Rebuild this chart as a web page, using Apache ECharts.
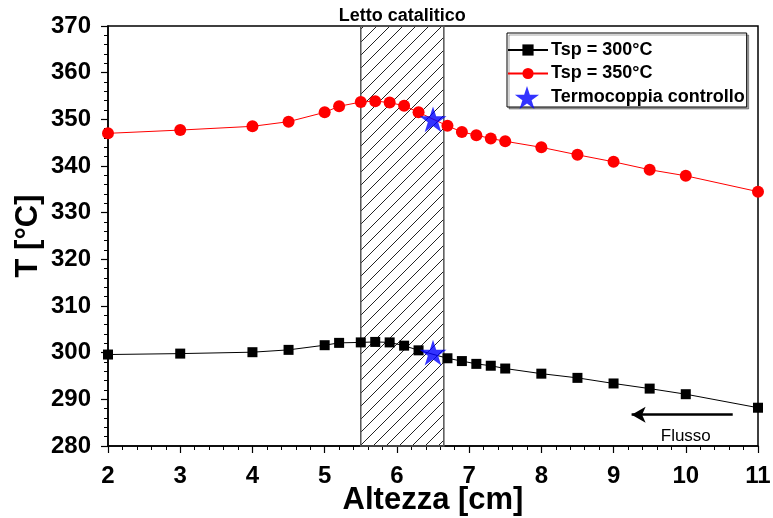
<!DOCTYPE html>
<html>
<head>
<meta charset="utf-8">
<script src="https://cdn.jsdelivr.net/npm/echarts@6/dist/echarts.min.js"></script>
<style>
  html, body { margin: 0; padding: 0; background: #fff; }
  #chart { width: 773px; height: 518px; }
</style>
</head>
<body>
<div id="chart"></div>
<script>
// Heights along the reactor [cm]
const altezza = [2, 3, 4, 4.5, 5, 5.2, 5.5, 5.7, 5.9, 6.1, 6.3, 6.7, 6.9, 7.1, 7.3, 7.5, 8, 8.5, 9, 9.5, 10, 11];
// Temperature profiles [°C]
const tsp300 = [299.6, 299.8, 300.1, 300.6, 301.6, 302.1, 302.2, 302.3, 302.2, 301.5, 300.5, 298.8, 298.2, 297.6, 297.2, 296.6, 295.5, 294.6, 293.4, 292.3, 291.1, 288.2];
const tsp350 = [347.0, 347.7, 348.5, 349.5, 351.5, 352.8, 353.7, 353.9, 353.6, 352.9, 351.5, 348.6, 347.3, 346.6, 345.9, 345.3, 344.0, 342.4, 340.9, 339.2, 337.9, 334.5];
// Control thermocouple readings
const termocoppia = [[6.5, 350], [6.5, 300]];
// Catalytic bed extent [cm]
const letto = [5.5, 6.65];
// Flow direction arrow (x from, x to, at T)
const flussoX = [10.65, 9.25];
const flussoT = 286.7;
const flussoLabel = [10.0, 282.0];

const xTicks = { min: 2, max: 11, interval: 1 };
const yTicks = { min: 280, max: 370, interval: 10 };

const FONT = '"Liberation Sans", Arial, sans-serif';

// hatch pattern for the catalytic bed
function hatch() {
  const s = 13;
  const c = document.createElement('canvas');
  c.width = s; c.height = s;
  const g = c.getContext('2d');
  g.strokeStyle = '#222';
  g.lineWidth = 1;
  g.beginPath();
  for (let k = -1; k <= 1; k++) {
    g.moveTo(k * s, s);
    g.lineTo(k * s + s, 0);
  }
  g.stroke();
  return c;
}

const starPath = 'path://M100,0L122.45,69.1L195.1,69.1L136.3,111.8L158.8,180.9L100,138.2L41.2,180.9L63.7,111.8L4.9,69.1L77.55,69.1Z';

const chart = echarts.init(document.getElementById('chart'), null, { renderer: 'canvas' });

const axisCommon = {
  type: 'value',
  axisLine: { show: true, onZero: false, lineStyle: { color: '#000', width: 1.5 } },
  axisTick: { show: true, inside: false, length: 7, lineStyle: { color: '#000', width: 1.2 } },
  minorTick: { show: true, splitNumber: 5, length: 4, lineStyle: { color: '#000', width: 1 } },
  splitLine: { show: false },
  axisLabel: { color: '#000', fontFamily: FONT, fontWeight: 'bold', fontSize: 24 },
  nameTextStyle: { color: '#000', fontFamily: FONT, fontWeight: 'bold', fontSize: 31 }
};

const legendText = { color: '#000', fontFamily: FONT, fontWeight: 'bold', fontSize: 18, padding: [0, 0, 0, -2] };

chart.setOption({
  animation: false,
  backgroundColor: '#fff',
  grid: {
    left: 108, right: 15, top: 26, bottom: 72,
    outerBoundsMode: 'none', containLabel: false,
    show: true, borderColor: '#000', borderWidth: 1.5, backgroundColor: 'transparent'
  },
  xAxis: Object.assign({}, axisCommon, {
    min: xTicks.min, max: xTicks.max, interval: xTicks.interval,
    name: 'Altezza [cm]', nameLocation: 'middle', nameGap: 39, nameMoveOverlap: false,
    axisLabel: Object.assign({}, axisCommon.axisLabel, { margin: 18 })
  }),
  yAxis: Object.assign({}, axisCommon, {
    min: yTicks.min, max: yTicks.max, interval: yTicks.interval,
    name: 'T [°C]', nameLocation: 'middle', nameGap: 64, nameMoveOverlap: false,
    axisLabel: Object.assign({}, axisCommon.axisLabel, { margin: 17 })
  }),
  legend: [
    {
      orient: 'vertical',
      left: 507, top: 33,
      padding: [8, 2, 1, 0],
      itemWidth: 40, itemHeight: 14, itemGap: 5.5,
      borderColor: '#000', borderWidth: 1,
      backgroundColor: '#fff',
      shadowColor: 'rgba(0,0,0,0.35)', shadowOffsetX: 2, shadowOffsetY: 2, shadowBlur: 0,
      textStyle: legendText,
      data: [
        'Tsp = 300°C',
        'Tsp = 350°C',
        { name: 'Termocoppia controllo', icon: 'rect', itemStyle: { opacity: 0 } }
      ]
    },
    {
      // larger marker for the thermocouple entry
      orient: 'vertical',
      left: 507, top: 86,
      padding: 0,
      itemWidth: 40, itemHeight: 23,
      textStyle: { color: 'rgba(0,0,0,0)', fontSize: 1 },
      formatter: () => '',
      data: ['Termocoppia controllo']
    }
  ],
  series: [
    {
      name: 'Tsp = 300°C',
      type: 'line',
      data: altezza.map((x, i) => [x, tsp300[i]]),
      symbol: 'rect', symbolSize: 10,
      lineStyle: { color: '#000', width: 1 },
      itemStyle: { color: '#000' },
      z: 3,
      markArea: {
        silent: true,
        itemStyle: { color: { image: hatch(), repeat: 'repeat' }, borderColor: '#555', borderWidth: 1.5 },
        label: { show: true, position: 'top', distance: 0, color: '#000', fontFamily: FONT, fontWeight: 'bold', fontSize: 18 },
        data: [[{ name: 'Letto catalitico', xAxis: letto[0], yAxis: yTicks.min }, { xAxis: letto[1], yAxis: yTicks.max }]]
      },
      markLine: {
        silent: true,
        symbol: ['none', 'arrow'],
        symbolSize: [12, 14],
        lineStyle: { color: '#000', width: 2.5, type: 'solid' },
        label: { show: false },
        data: [[{ coord: [flussoX[0], flussoT] }, { coord: [flussoX[1], flussoT] }]]
      },
      markPoint: {
        silent: true,
        symbol: 'circle',
        symbolSize: 0,
        itemStyle: { color: 'rgba(0,0,0,0)' },
        label: { show: true, position: 'inside', formatter: 'Flusso', color: '#000', fontFamily: FONT, fontWeight: 'normal', fontSize: 17 },
        data: [{ name: 'Flusso', coord: flussoLabel }]
      }
    },
    {
      name: 'Tsp = 350°C',
      type: 'line',
      data: altezza.map((x, i) => [x, tsp350[i]]),
      symbol: 'circle', symbolSize: 12,
      lineStyle: { color: '#ff0000', width: 1 },
      itemStyle: { color: '#ff0000' },
      z: 3
    },
    {
      name: 'Termocoppia controllo',
      type: 'scatter',
      data: termocoppia,
      symbol: starPath, symbolKeepAspect: true, symbolSize: 27,
      itemStyle: { color: '#0000ff' },
      z: 5
    }
  ]
});
</script>
</body>
</html>
